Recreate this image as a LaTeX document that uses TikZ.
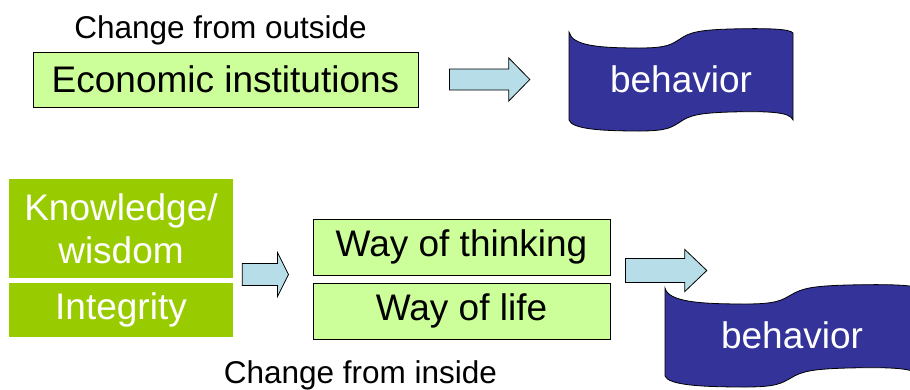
\documentclass[tikz,border=0pt]{standalone}
\usepackage{fontspec}
\setmainfont{Liberation Sans}
\usetikzlibrary{calc,positioning,backgrounds}
\definecolor{palegreen}{HTML}{CCFF99}
\definecolor{leafgreen}{HTML}{99CC00}
\definecolor{arrowcyan}{HTML}{B7DEE8}
\definecolor{inkblue}{HTML}{333399}
\tikzstyle{caption} = [anchor=base, font=\fontsize{31.5}{36}\selectfont]
\tikzstyle{lightbox} = [rectangle, draw, fill=palegreen, line width=1pt, text centered, minimum width=297pt, minimum height=56pt, font=\fontsize{37}{43}\selectfont]
\tikzstyle{greenbox} = [rectangle, fill=leafgreen, text=white, align=center, minimum width=224pt, font=\fontsize{37}{43}\selectfont]
\tikzstyle{wavetext} = [rectangle, text=white, minimum height=80pt, font=\fontsize{37}{43}\selectfont]
\tikzstyle{wavefill} = [draw, fill=inkblue, line width=0.8pt]
\tikzstyle{fatarrow} = [draw, fill=arrowcyan, line width=0.8pt, line join=miter]
% block arrow: start, tip, half body, half head, head length
\newcommand{\blockarrow}[5]{%
  \path [fatarrow] let \p1 = (#1), \p2 = (#2) in
    (\x1,\y1+#3) -- (\x2-#5,\y1+#3) -- (\x2-#5,\y1+#4) -- (\x2,\y1)
    -- (\x2-#5,\y1-#4) -- (\x2-#5,\y1-#3) -- (\x1,\y1-#3) -- cycle;}
% banner behind a node: node, xscale
\newcommand{\banner}[2]{%
  \begin{scope}[on background layer, shift={(#1.center)}, xscale=#2]
    \path [wavefill] (-112,-47) .. controls (-109,-33) and (-81,-31) .. (-41,-31)
      .. controls (-13,-31) and (-9,-35) .. (-1,-40) .. controls (9,-47) and (19,-49) .. (49,-50)
      .. controls (89,-51) and (109,-50) .. (112,-46) -- (112,41)
      .. controls (109,33) and (89,32) .. (49,33) .. controls (19,34) and (9,36) .. (-1,43)
      .. controls (-9,48) and (-13,52) .. (-41,52) .. controls (-81,52) and (-109,50) .. (-112,41) -- cycle;
  \end{scope}}

\begin{document}
\begin{tikzpicture}[x=1pt, y=-1pt]
    \useasboundingbox (0,0) rectangle (910,389);
    % change from outside
    \node (outside-lbl) [caption] at (220.5,38) {Change from outside};
    \node (econ) [lightbox, minimum width=385pt, minimum height=55pt] at (225.5,79.5) {Economic institutions};
    \node (beh-top) [wavetext, minimum width=224pt] at (681,79) {behavior};
    \banner{beh-top}{1}
    % change from inside
    \node (knowledge) [greenbox, minimum height=99pt] at (121,228.5) {Knowledge/\\wisdom};
    \node (integrity) [greenbox, below of = knowledge, node distance=81.5pt, minimum height=54pt] {Integrity};
    \node (way-think) [lightbox] at (461.5,247) {Way of thinking};
    \node (way-life) [lightbox, below of = way-think, node distance=64pt] {Way of life};
    \node (beh-bot) [wavetext, minimum width=254pt] at (792,335) {behavior};
    \banner{beh-bot}{1.134}
    \node (inside-lbl) [caption] at (360.5,383) {Change from inside};
    \blockarrow{$(econ.east)+(31,0)$}{$(beh-top.west)+(-39,0)$}{10.5pt}{21.5pt}{21pt}
    \blockarrow{$(knowledge.east |- way-think.south)+(9,-1)$}{$(way-think.west)+(-24,0)$}{11pt}{22pt}{11pt}
    \blockarrow{$(way-think.south east)+(15,-5)$}{$(beh-bot.west)+(42,0)$}{12pt}{21pt}{22pt}
\end{tikzpicture}
\end{document}
